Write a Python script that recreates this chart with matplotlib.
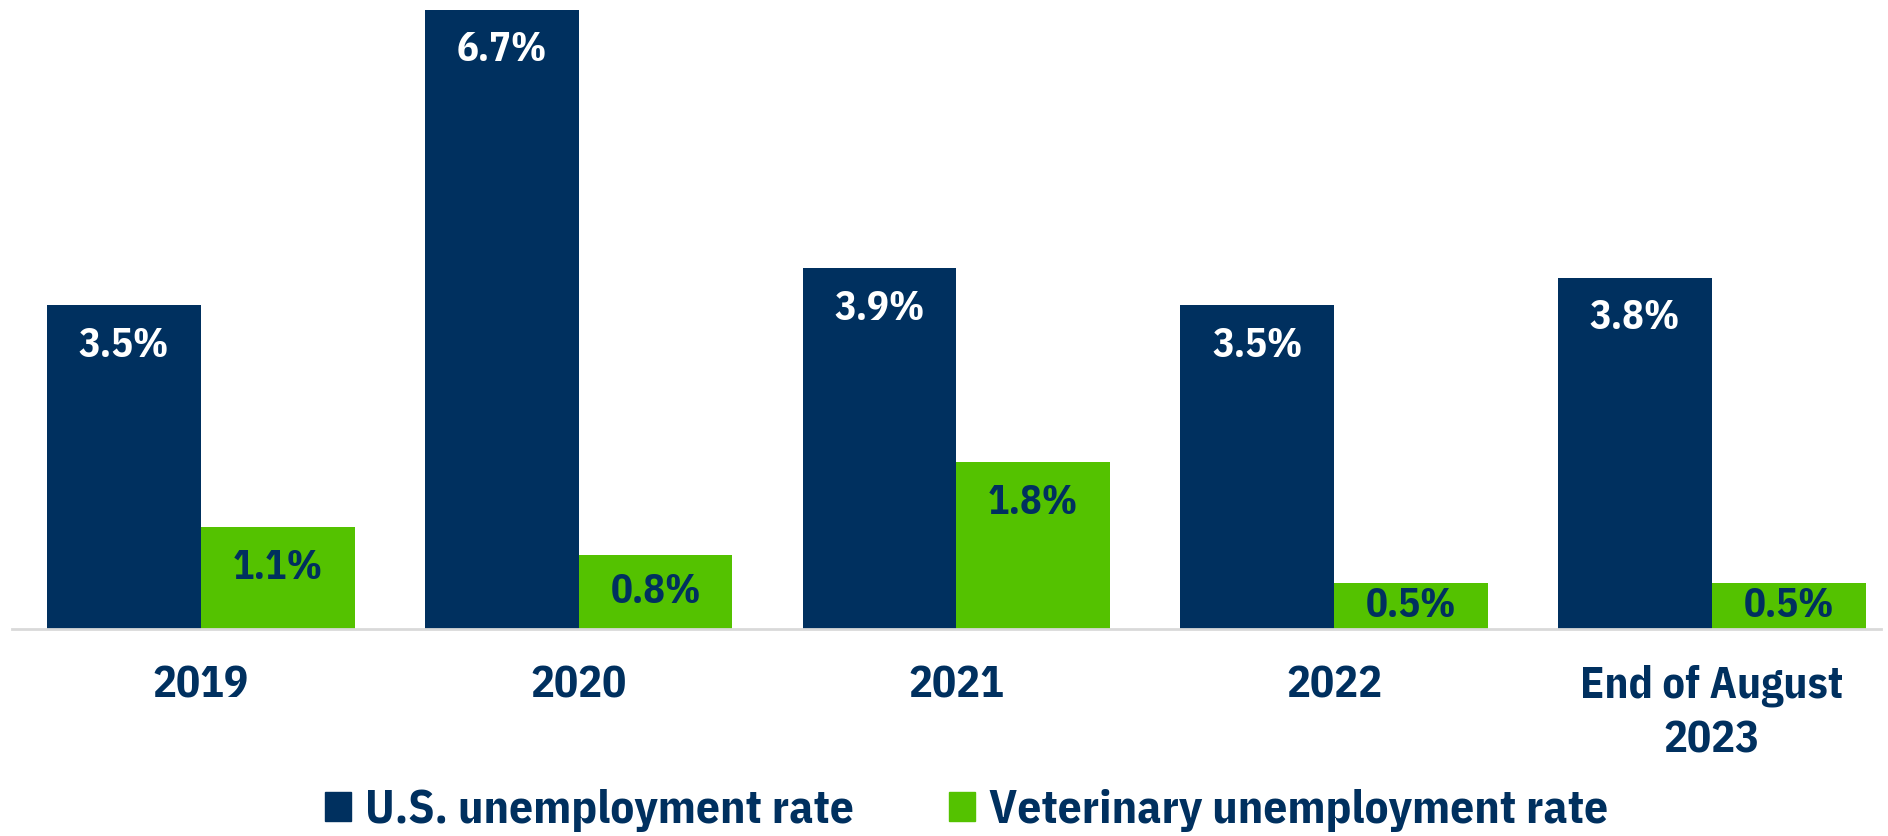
import matplotlib
matplotlib.use("Agg")
import matplotlib.pyplot as plt
from matplotlib import font_manager
from matplotlib.patches import Patch
import numpy as np

categories = ["2019", "2020", "2021", "2022", "End of August\n2023"]
us_rate = [3.5, 6.7, 3.9, 3.5, 3.8]
vet_rate = [1.1, 0.8, 1.8, 0.5, 0.5]
series_names = ["U.S. unemployment rate", "Veterinary unemployment rate"]

NAVY = "#00305F"
GREEN = "#54C200"

names = {f.name for f in font_manager.fontManager.ttflist}
family = next((n for n in ["IBM Plex Sans Condensed", "Open Sans Condensed",
                           "Liberation Sans Narrow"] if n in names), "DejaVu Sans")
plt.rcParams["font.family"] = [family, "DejaVu Sans"]
plt.rcParams["font.weight"] = "bold"

fig = plt.figure(figsize=(18.88, 8.36), dpi=100)
ax = fig.add_axes([0.0064, 0.2478, 0.9898, 0.7522])

x = np.arange(len(categories))
w = 0.407
b1 = ax.bar(x - w / 2, us_rate, w, color=NAVY)
b2 = ax.bar(x + w / 2, vet_rate, w, color=GREEN)

ax.set_xlim(-0.5, 4.447)
ax.set_ylim(0, 6.804)

# value labels: near the top of the bar, or centred for short bars
for bars, vals, col in [(b1, us_rate, "white"), (b2, vet_rate, NAVY)]:
    for bar, v in zip(bars, vals):
        y = max(v - 0.44, v / 2)
        ax.text(bar.get_x() + bar.get_width() / 2, y, f"{v}%",
                ha="center", va="center", color=col, fontsize=29, fontweight="bold")

for s in ["top", "right", "left"]:
    ax.spines[s].set_visible(False)
ax.spines["bottom"].set_color("#D9D9D9")
ax.spines["bottom"].set_linewidth(2)
ax.set_yticks([])
ax.set_xticks(x)
ax.set_xticklabels(categories, fontsize=32, fontweight="bold", color=NAVY,
                   linespacing=1.38, va="top")
ax.tick_params(axis="x", length=0, pad=26)

handles = [Patch(color=NAVY), Patch(color=GREEN)]
fig.legend(handles, series_names, loc="center", bbox_to_anchor=(0.512, 0.03),
           ncol=2, frameon=False, handlelength=0.55, handleheight=0.55,
           handletextpad=0.3, columnspacing=2.0, borderpad=0.2,
           prop={"size": 34, "weight": "bold"}, labelcolor=NAVY)

fig.savefig("out.png", dpi=100)
